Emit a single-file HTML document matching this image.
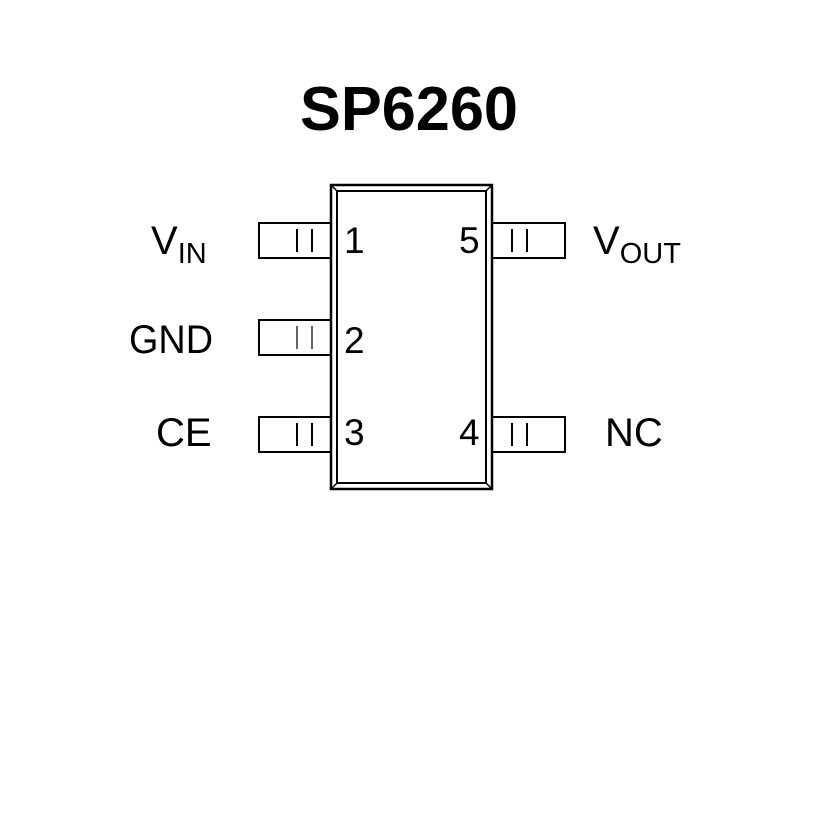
<!DOCTYPE html>
<html><head><style>html,body{margin:0;padding:0;background:#fff;}</style></head>
<body>
<svg width="827" height="827" viewBox="0 0 827 827" xmlns="http://www.w3.org/2000/svg" font-family="Liberation Sans, Arial, sans-serif">
<rect width="827" height="827" fill="#fff"/>
<text x="300" y="130" font-size="62" font-weight="bold" textLength="218" lengthAdjust="spacingAndGlyphs">SP6260</text>
<rect x="331" y="185" width="161" height="304" fill="none" stroke="#000" stroke-width="2.5"/>
<rect x="337" y="191" width="149" height="292" fill="none" stroke="#000" stroke-width="2"/>
<g stroke="#000" stroke-width="1.5">
<line x1="331" y1="185" x2="337" y2="191"/><line x1="492" y1="185" x2="486" y2="191"/>
<line x1="331" y1="489" x2="337" y2="483"/><line x1="492" y1="489" x2="486" y2="483"/>
</g>
<g fill="none" stroke="#000" stroke-width="2">
<path d="M331 223 H259 V258 H331"/>
<path d="M331 320 H259 V355 H331"/>
<path d="M331 417 H259 V452 H331"/>
<path d="M492 223 H565 V258 H492"/>
<path d="M492 417 H565 V452 H492"/>
</g>
<g stroke="#000" stroke-width="2">
<line x1="297" y1="229" x2="297" y2="252"/><line x1="312" y1="229" x2="312" y2="252"/>
<line x1="297" y1="326" x2="297" y2="349" stroke-width="1.2"/><line x1="312" y1="326" x2="312" y2="349" stroke-width="1.2"/>
<line x1="297" y1="423" x2="297" y2="446"/><line x1="312" y1="423" x2="312" y2="446"/>
<line x1="512" y1="229" x2="512" y2="252"/><line x1="527" y1="229" x2="527" y2="252"/>
<line x1="512" y1="423" x2="512" y2="446"/><line x1="527" y1="423" x2="527" y2="446"/>
</g>
<g font-size="37" fill="#000">
<text x="344" y="253">1</text>
<text x="344" y="353">2</text>
<text x="344" y="445">3</text>
<text x="459" y="445">4</text>
<text x="459" y="253">5</text>
</g>
<g font-size="40" fill="#000">
<text x="151" y="254">V<tspan font-size="29" dy="9">IN</tspan></text>
<text x="129" y="353" textLength="84" lengthAdjust="spacingAndGlyphs">GND</text>
<text x="156" y="446">CE</text>
<text x="593" y="254">V<tspan font-size="29" dy="9">OUT</tspan></text>
<text x="605" y="446">NC</text>
</g>
</svg>
</body></html>
